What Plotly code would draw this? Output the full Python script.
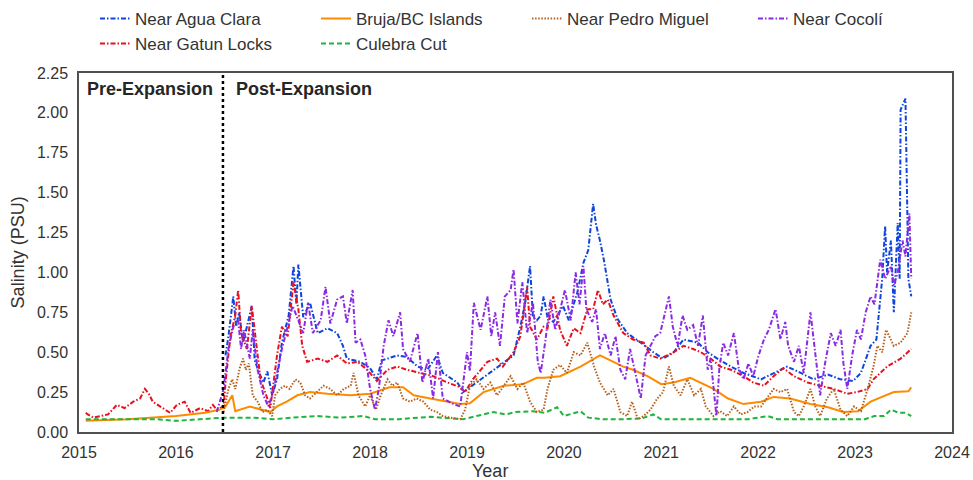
import pandas as pd
import plotly.graph_objects as go

# ---- salinity records (decimal year, PSU) ----
agua_clara_t = [2016.51, 2016.54, 2016.59, 2016.62, 2016.65, 2016.69, 2016.73, 2016.78, 2016.81, 2016.85,
                2016.90, 2016.94, 2016.99, 2017.04, 2017.09, 2017.16, 2017.21, 2017.24, 2017.26, 2017.31,
                2017.38, 2017.46, 2017.56, 2017.66, 2017.72, 2017.76, 2017.90, 2018.00, 2018.07, 2018.12,
                2018.18, 2018.28, 2018.38, 2018.49, 2018.59, 2018.69, 2018.75, 2018.90, 2018.96, 2019.03,
                2019.48, 2019.55, 2019.60, 2019.65, 2019.68, 2019.72, 2019.76, 2019.79, 2019.83, 2019.89,
                2019.99, 2020.05, 2020.14, 2020.20, 2020.25, 2020.30, 2020.33, 2020.37, 2020.41, 2020.45,
                2020.48, 2020.55, 2020.65, 2020.79, 2020.92, 2021.02, 2021.13, 2021.23, 2021.38, 2021.48,
                2021.58, 2021.72, 2021.85, 2022.03, 2022.16, 2022.30, 2022.44, 2022.57, 2022.72, 2022.85,
                2022.98, 2023.06, 2023.16, 2023.22, 2023.28, 2023.31, 2023.33, 2023.37, 2023.40, 2023.44,
                2023.46, 2023.47, 2023.52, 2023.54, 2023.55, 2023.58]
agua_clara_v = [0.48, 0.60, 0.85, 0.66, 0.75, 0.56, 0.66, 0.79, 0.45, 0.38,
                0.31, 0.38, 0.23, 0.33, 0.56, 0.73, 1.04, 0.80, 1.05, 0.72,
                0.81, 0.62, 0.65, 0.62, 0.54, 0.46, 0.44, 0.40, 0.33, 0.45,
                0.46, 0.48, 0.47, 0.41, 0.39, 0.48, 0.37, 0.31, 0.25, 0.28,
                0.48, 0.66, 0.81, 1.04, 0.72, 0.70, 0.73, 0.85, 0.72, 0.69,
                0.79, 0.70, 0.88, 1.06, 1.14, 1.43, 1.30, 1.20, 1.08, 0.94,
                0.83, 0.71, 0.62, 0.56, 0.50, 0.46, 0.50, 0.58, 0.56, 0.50,
                0.46, 0.41, 0.37, 0.33, 0.37, 0.41, 0.37, 0.33, 0.36, 0.33,
                0.32, 0.37, 0.54, 0.58, 0.96, 1.29, 1.00, 1.20, 0.75, 1.31,
                0.96, 2.02, 2.09, 1.48, 0.96, 0.85]

gatun_t = [2015.07, 2015.09, 2015.15, 2015.22, 2015.30, 2015.39, 2015.47, 2015.56, 2015.63, 2015.68,
           2015.72, 2015.76, 2015.84, 2015.94, 2016.01, 2016.09, 2016.15, 2016.25, 2016.33, 2016.38,
           2016.42, 2016.49, 2016.51, 2016.56, 2016.61, 2016.64, 2016.67, 2016.73, 2016.78, 2016.82,
           2016.87, 2016.94, 2016.97, 2017.04, 2017.09, 2017.15, 2017.21, 2017.26, 2017.30, 2017.35,
           2017.46, 2017.56, 2017.66, 2017.76, 2017.87, 2017.97, 2018.07, 2018.18, 2018.28, 2018.38,
           2018.52, 2018.65, 2018.80, 2018.93, 2018.98, 2019.06, 2019.21, 2019.31, 2019.37, 2019.48,
           2019.55, 2019.62, 2019.65, 2019.72, 2019.79, 2019.83, 2019.89, 2019.96, 2020.03, 2020.10,
           2020.17, 2020.24, 2020.30, 2020.35, 2020.40, 2020.45, 2020.51, 2020.61, 2020.71, 2020.82,
           2020.89, 2020.99, 2021.13, 2021.23, 2021.33, 2021.41, 2021.51, 2021.61, 2021.72, 2021.85,
           2021.95, 2022.06, 2022.16, 2022.26, 2022.37, 2022.51, 2022.64, 2022.78, 2022.92, 2023.02,
           2023.13, 2023.19, 2023.33, 2023.47, 2023.58]
gatun_v = [0.12, 0.11, 0.09, 0.10, 0.11, 0.17, 0.15, 0.19, 0.21, 0.27,
           0.24, 0.19, 0.16, 0.12, 0.17, 0.19, 0.12, 0.15, 0.13, 0.17,
           0.14, 0.16, 0.31, 0.60, 0.73, 0.89, 0.62, 0.52, 0.79, 0.60,
           0.33, 0.21, 0.15, 0.48, 0.66, 0.60, 0.94, 0.77, 0.54, 0.44,
           0.46, 0.44, 0.48, 0.43, 0.44, 0.39, 0.32, 0.39, 0.41, 0.39,
           0.37, 0.35, 0.31, 0.28, 0.25, 0.33, 0.44, 0.46, 0.41, 0.50,
           0.60, 0.91, 0.66, 0.58, 0.66, 0.65, 0.85, 0.64, 0.54, 0.65,
           0.62, 0.77, 0.77, 0.89, 0.80, 0.83, 0.73, 0.62, 0.58, 0.56,
           0.48, 0.46, 0.50, 0.54, 0.52, 0.50, 0.46, 0.41, 0.39, 0.35,
           0.31, 0.29, 0.35, 0.40, 0.35, 0.31, 0.29, 0.27, 0.24, 0.25,
           0.27, 0.33, 0.41, 0.46, 0.52]

bruja_t = [2015.07, 2015.50, 2016.00, 2016.30, 2016.45, 2016.51, 2016.58, 2016.61, 2016.76, 2016.87,
           2016.97, 2017.04, 2017.14, 2017.25, 2017.38, 2017.56, 2017.80, 2018.00, 2018.20, 2018.34,
           2018.45, 2018.62, 2018.80, 2018.93, 2019.03, 2019.17, 2019.38, 2019.58, 2019.72, 2019.80,
           2019.96, 2020.17, 2020.37, 2020.48, 2020.61, 2020.71, 2020.86, 2021.00, 2021.13, 2021.30,
           2021.41, 2021.54, 2021.69, 2021.85, 2022.03, 2022.16, 2022.33, 2022.54, 2022.72, 2022.88,
           2023.03, 2023.16, 2023.40, 2023.55, 2023.58]
bruja_v = [0.07, 0.08, 0.10, 0.12, 0.14, 0.16, 0.23, 0.13, 0.16, 0.14,
           0.125, 0.16, 0.19, 0.23, 0.25, 0.24, 0.23, 0.24, 0.28, 0.28,
           0.23, 0.21, 0.19, 0.175, 0.18, 0.25, 0.29, 0.30, 0.34, 0.34,
           0.35, 0.41, 0.48, 0.45, 0.41, 0.39, 0.35, 0.30, 0.31, 0.34,
           0.31, 0.27, 0.21, 0.175, 0.19, 0.22, 0.21, 0.175, 0.155, 0.125,
           0.13, 0.19, 0.25, 0.255, 0.28]

culebra_t = [2015.07, 2015.50, 2015.80, 2016.00, 2016.30, 2016.50, 2016.80, 2017.00, 2017.20, 2017.45,
             2017.70, 2017.93, 2018.05, 2018.30, 2018.50, 2018.62, 2018.96, 2019.10, 2019.27, 2019.40,
             2019.50, 2019.68, 2019.80, 2019.93, 2020.00, 2020.17, 2020.25, 2020.40, 2020.60, 2020.80,
             2020.92, 2021.00, 2021.30, 2021.60, 2021.90, 2022.10, 2022.20, 2022.50, 2022.80, 2023.10,
             2023.20, 2023.30, 2023.37, 2023.45, 2023.52, 2023.58]
culebra_v = [0.08, 0.08, 0.08, 0.07, 0.08, 0.09, 0.09, 0.08, 0.09, 0.10,
             0.09, 0.10, 0.08, 0.08, 0.09, 0.095, 0.08, 0.10, 0.125, 0.11,
             0.125, 0.13, 0.12, 0.155, 0.10, 0.13, 0.09, 0.08, 0.08, 0.085,
             0.11, 0.08, 0.08, 0.08, 0.08, 0.10, 0.08, 0.08, 0.08, 0.08,
             0.10, 0.10, 0.14, 0.12, 0.12, 0.10]

pedro_miguel_t = [2016.49, 2016.54, 2016.58, 2016.61, 2016.66, 2016.69, 2016.72, 2016.75, 2016.79, 2016.84,
                  2016.89, 2016.94, 2016.99, 2017.02, 2017.07, 2017.12, 2017.17, 2017.23, 2017.28, 2017.33,
                  2017.38, 2017.45, 2017.52, 2017.59, 2017.66, 2017.73, 2017.80, 2017.83, 2017.88, 2017.95,
                  2018.00, 2018.06, 2018.11, 2018.18, 2018.23, 2018.28, 2018.34, 2018.41, 2018.48, 2018.55,
                  2018.62, 2018.69, 2018.75, 2018.83, 2018.93, 2018.98, 2019.03, 2019.10, 2019.17, 2019.24,
                  2019.31, 2019.38, 2019.45, 2019.52, 2019.58, 2019.65, 2019.72, 2019.79, 2019.83, 2019.89,
                  2019.96, 2020.03, 2020.10, 2020.17, 2020.24, 2020.31, 2020.37, 2020.45, 2020.51, 2020.58,
                  2020.65, 2020.70, 2020.76, 2020.82, 2020.89, 2020.96, 2021.02, 2021.08, 2021.13, 2021.20,
                  2021.27, 2021.34, 2021.41, 2021.46, 2021.54, 2021.61, 2021.68, 2021.75, 2021.82, 2021.89,
                  2021.96, 2022.03, 2022.10, 2022.16, 2022.23, 2022.30, 2022.37, 2022.42, 2022.47, 2022.54,
                  2022.59, 2022.64, 2022.71, 2022.78, 2022.85, 2022.92, 2022.99, 2023.06, 2023.13, 2023.19,
                  2023.23, 2023.28, 2023.32, 2023.40, 2023.47, 2023.54, 2023.58]
pedro_miguel_v = [0.125, 0.27, 0.33, 0.27, 0.41, 0.46, 0.39, 0.43, 0.23, 0.19,
                  0.125, 0.14, 0.10, 0.23, 0.27, 0.29, 0.27, 0.33, 0.31, 0.23,
                  0.21, 0.25, 0.29, 0.27, 0.23, 0.27, 0.29, 0.37, 0.23, 0.16,
                  0.23, 0.14, 0.23, 0.33, 0.29, 0.31, 0.21, 0.19, 0.21, 0.19,
                  0.14, 0.125, 0.10, 0.09, 0.08, 0.14, 0.29, 0.33, 0.27, 0.31,
                  0.23, 0.29, 0.35, 0.27, 0.31, 0.19, 0.125, 0.14, 0.27, 0.39,
                  0.42, 0.37, 0.50, 0.48, 0.56, 0.41, 0.31, 0.23, 0.27, 0.125,
                  0.10, 0.19, 0.08, 0.10, 0.14, 0.21, 0.25, 0.41, 0.29, 0.23,
                  0.33, 0.23, 0.27, 0.16, 0.10, 0.13, 0.10, 0.16, 0.11, 0.125,
                  0.16, 0.16, 0.22, 0.27, 0.25, 0.27, 0.125, 0.10, 0.16, 0.27,
                  0.16, 0.10, 0.21, 0.27, 0.14, 0.10, 0.16, 0.13, 0.27, 0.41,
                  0.54, 0.50, 0.64, 0.54, 0.56, 0.62, 0.75]

cocoli_t = [2016.42, 2016.49, 2016.54, 2016.59, 2016.64, 2016.67, 2016.70, 2016.76, 2016.79, 2016.84,
            2016.90, 2016.95, 2017.00, 2017.04, 2017.09, 2017.15, 2017.20, 2017.24, 2017.31, 2017.36,
            2017.41, 2017.49, 2017.54, 2017.59, 2017.66, 2017.72, 2017.76, 2017.82, 2017.85, 2017.90,
            2017.95, 2018.00, 2018.05, 2018.09, 2018.14, 2018.19, 2018.24, 2018.31, 2018.34, 2018.41,
            2018.49, 2018.54, 2018.60, 2018.65, 2018.70, 2018.75, 2018.86, 2018.93, 2018.97, 2019.00,
            2019.03, 2019.07, 2019.14, 2019.21, 2019.25, 2019.29, 2019.34, 2019.39, 2019.45, 2019.48,
            2019.52, 2019.57, 2019.62, 2019.68, 2019.73, 2019.76, 2019.81, 2019.86, 2019.91, 2019.96,
            2020.01, 2020.07, 2020.12, 2020.16, 2020.20, 2020.23, 2020.29, 2020.33, 2020.37, 2020.42,
            2020.48, 2020.53, 2020.58, 2020.63, 2020.68, 2020.73, 2020.79, 2020.84, 2020.89, 2020.94,
            2020.99, 2021.05, 2021.08, 2021.12, 2021.17, 2021.22, 2021.27, 2021.33, 2021.38, 2021.43,
            2021.48, 2021.51, 2021.57, 2021.60, 2021.64, 2021.69, 2021.75, 2021.80, 2021.85, 2021.90,
            2021.95, 2022.00, 2022.06, 2022.11, 2022.14, 2022.18, 2022.23, 2022.28, 2022.31, 2022.37,
            2022.42, 2022.47, 2022.54, 2022.59, 2022.64, 2022.69, 2022.75, 2022.80, 2022.85, 2022.88,
            2022.92, 2022.97, 2023.02, 2023.06, 2023.11, 2023.16, 2023.20, 2023.26, 2023.31, 2023.37,
            2023.40, 2023.44, 2023.49, 2023.52, 2023.56, 2023.58]
cocoli_v = [0.125, 0.27, 0.52, 0.66, 0.70, 0.52, 0.64, 0.46, 0.64, 0.39,
            0.23, 0.16, 0.25, 0.37, 0.52, 0.66, 0.79, 0.73, 0.62, 0.81,
            0.62, 0.70, 0.91, 0.68, 0.83, 0.85, 0.68, 0.89, 0.56, 0.58,
            0.48, 0.27, 0.14, 0.27, 0.54, 0.70, 0.60, 0.75, 0.52, 0.44,
            0.62, 0.31, 0.46, 0.21, 0.50, 0.21, 0.175, 0.16, 0.37, 0.50,
            0.38, 0.81, 0.64, 0.85, 0.60, 0.75, 0.54, 0.85, 0.89, 1.02,
            0.68, 0.94, 0.62, 0.81, 0.44, 0.37, 0.58, 0.83, 0.64, 0.77,
            0.89, 0.70, 1.00, 0.80, 1.04, 0.77, 0.69, 0.77, 0.52, 0.62,
            0.48, 0.60, 0.39, 0.33, 0.52, 0.38, 0.21, 0.48, 0.54, 0.60,
            0.62, 0.77, 0.85, 0.66, 0.54, 0.73, 0.64, 0.67, 0.54, 0.73,
            0.39, 0.46, 0.10, 0.40, 0.56, 0.48, 0.62, 0.40, 0.33, 0.43,
            0.35, 0.47, 0.58, 0.64, 0.69, 0.77, 0.58, 0.69, 0.54, 0.44,
            0.54, 0.37, 0.75, 0.48, 0.23, 0.43, 0.62, 0.54, 0.64, 0.43,
            0.27, 0.48, 0.64, 0.58, 0.75, 0.85, 0.80, 1.08, 0.96, 1.04,
            0.92, 1.00, 1.20, 1.10, 1.37, 0.96]

EXPANSION_DATE = "2016-06-26"
YEAR_TICKS = list(range(2015, 2025))
Y_TICKS = [0.0, 0.25, 0.5, 0.75, 1.0, 1.25, 1.5, 1.75, 2.0, 2.25]


def to_dates(years):
    """Convert decimal years to 'YYYY-MM-DD HH:MM' strings."""
    out = []
    for y in years:
        yr = int(y)
        start = pd.Timestamp(yr, 1, 1)
        end = pd.Timestamp(yr + 1, 1, 1)
        ts = start + pd.Timedelta(seconds=round((end - start).total_seconds() * (y - yr)))
        out.append(ts.strftime("%Y-%m-%d %H:%M"))
    return out


FONT = "Liberation Sans, Arial, sans-serif"
TXT = "#333333"

DASHDOT = "5px,2px,1.5px,2px"
DOTTED = "1.5px,1.6px"
DASHED = "5px,3px"

series = [
    # name, t, v, colour, dash, legend column
    ("Near Agua Clara", agua_clara_t, agua_clara_v, "#0f45dc", DASHDOT, "legend"),
    ("Near Gatun Locks", gatun_t, gatun_v, "#e8101e", DASHDOT, "legend"),
    ("Bruja/BC Islands", bruja_t, bruja_v, "#ff8a00", "solid", "legend2"),
    ("Culebra Cut", culebra_t, culebra_v, "#1fb43c", DASHED, "legend2"),
    ("Near Pedro Miguel", pedro_miguel_t, pedro_miguel_v, "#b5601c", DOTTED, "legend3"),
    ("Near Cocolí", cocoli_t, cocoli_v, "#8a2be2", DASHDOT, "legend4"),
]

fig = go.Figure()
for name, t, v, colour, dash, leg in series:
    fig.add_trace(go.Scatter(
        x=to_dates(t), y=v, name=name, mode="lines", legend=leg,
        line=dict(color=colour, width=2.0, dash=dash),
    ))

# expansion date marker
fig.add_shape(type="line", x0=EXPANSION_DATE, x1=EXPANSION_DATE, xref="x",
              y0=0, y1=1, yref="paper",
              line=dict(color="black", width=2.5, dash="3px,3px"))

fig.add_annotation(text="<b>Pre-Expansion</b>", xref="paper", yref="paper",
                   x=0.007, y=0.955, xanchor="left", yanchor="middle", showarrow=False,
                   font=dict(family=FONT, size=18, color="#262626"))
fig.add_annotation(text="<b>Post-Expansion</b>", xref="paper", yref="paper",
                   x=0.178, y=0.955, xanchor="left", yanchor="middle", showarrow=False,
                   font=dict(family=FONT, size=18, color="#262626"))

# axis titles
fig.add_annotation(text="Salinity (PSU)", xref="paper", yref="paper",
                   x=-0.070, y=0.50, xanchor="center", yanchor="middle", textangle=-90,
                   showarrow=False, font=dict(family=FONT, size=18, color=TXT))
fig.add_annotation(text="Year", xref="paper", yref="paper",
                   x=0.471, y=-0.108, xanchor="center", yanchor="middle",
                   showarrow=False, font=dict(family=FONT, size=18, color=TXT))

legend_style = dict(orientation="v", xref="container", yref="container", yanchor="top",
                    xanchor="left", bgcolor="rgba(0,0,0,0)", borderwidth=0, tracegroupgap=0,
                    font=dict(family=FONT, size=17, color=TXT))
legend_x = [95, 316, 527, 753]
legend_y = 0.998

fig.update_layout(
    width=973, height=480,
    margin=dict(l=79, r=21, t=73, b=48, autoexpand=False),
    plot_bgcolor="white", paper_bgcolor="white",
    font=dict(family=FONT, size=16, color=TXT),
    legend=dict(legend_style, x=legend_x[0] / 973, y=legend_y),
    legend2=dict(legend_style, x=legend_x[1] / 973, y=legend_y),
    legend3=dict(legend_style, x=legend_x[2] / 973, y=legend_y),
    legend4=dict(legend_style, x=legend_x[3] / 973, y=legend_y),
    xaxis=dict(
        type="date",
        range=["2015-01-01", "2024-01-01"],
        tickvals=[f"{y}-01-01" for y in YEAR_TICKS],
        ticktext=[str(y) for y in YEAR_TICKS],
        showgrid=False, zeroline=False, ticks="", ticklabelstandoff=5,
        showline=True, mirror=True, linecolor="#505050", linewidth=1.5,
        tickfont=dict(size=16, color=TXT),
    ),
    yaxis=dict(
        range=[0, 2.25],
        tickvals=Y_TICKS,
        tickformat=".2f",
        showgrid=False, zeroline=False, ticks="", ticklabelstandoff=6,
        showline=True, mirror=True, linecolor="#505050", linewidth=1.5,
        tickfont=dict(size=16, color=TXT),
    ),
)

fig.write_html("out.html")
